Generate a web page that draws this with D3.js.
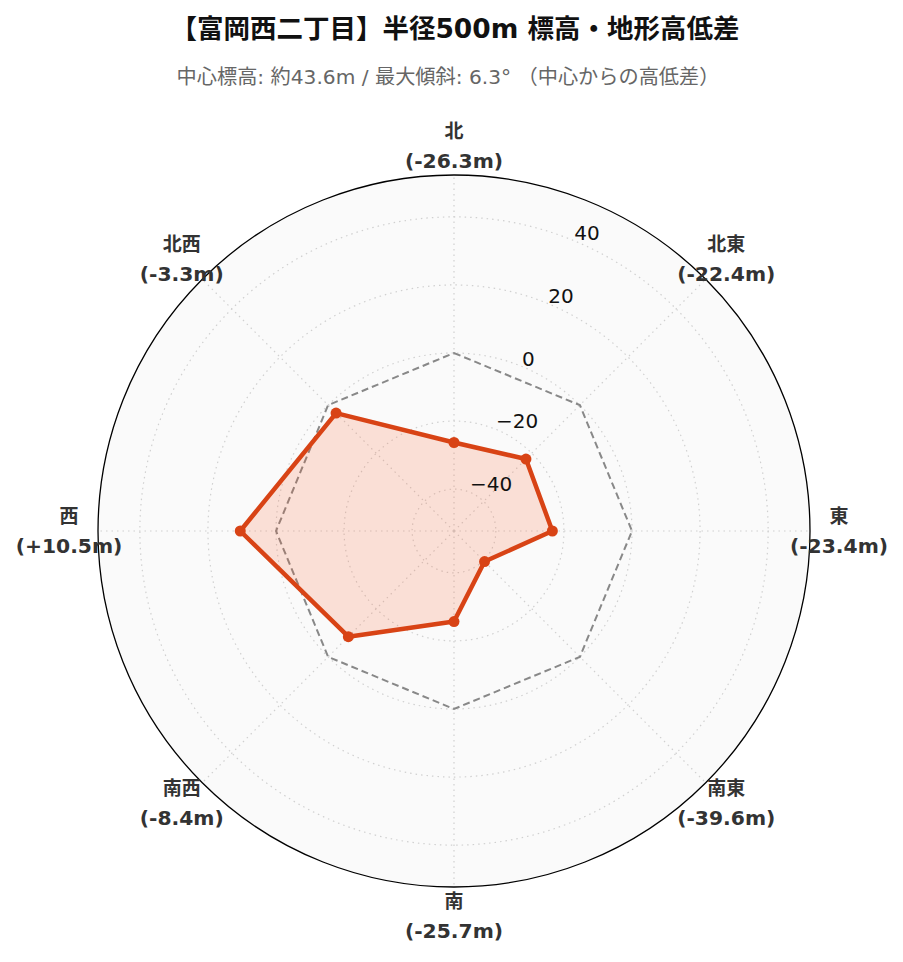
<!DOCTYPE html>
<html><head><meta charset="utf-8">
<script src="https://cdn.jsdelivr.net/npm/d3@7"></script>
<style>body{margin:0;background:#fff;} svg{display:block;}</style>
</head><body>
<script>
const directions = ["北","北東","東","南東","南","南西","西","北西"];
const diffs = [-26.3, -22.4, -23.4, -39.6, -25.7, -8.4, 10.5, -3.3];
const zeroRef = [0,0,0,0,0,0,0,0];
const rTicks = [-40, -20, 0, 20, 40];
const rDomain = [-52.3, 52.3];
const titleText = "【富岡西二丁目】半径500m 標高・地形高低差";
const subtitleText = "中心標高: 約43.6m / 最大傾斜: 6.3° （中心からの高低差）";

const W = 903, H = 962, cx = 454, cy = 531, R = 356;
const FF = "'DejaVu Sans', 'Noto Sans CJK JP', sans-serif";
const svg = d3.select("body").append("svg").attr("width", W).attr("height", H);
const r = d3.scaleLinear().domain(rDomain).range([0, R]);
const ang = d3.scaleLinear().domain([0, directions.length]).range([0, 2*Math.PI]);
const px = (i, v) => cx + r(v) * Math.sin(ang(i));
const py = (i, v) => cy - r(v) * Math.cos(ang(i));

svg.append("text").attr("x", 455).attr("y", 38).attr("text-anchor","middle")
  .attr("font-family",FF).attr("font-weight","bold")
  .attr("font-size", 26.5).attr("fill","#111").text(titleText);
svg.append("text").attr("x", 448).attr("y", 84).attr("text-anchor","middle")
  .attr("font-family",FF)
  .attr("font-size", 20.2).attr("fill","#666").text(subtitleText);

const g = svg.append("g");
g.append("circle").attr("cx",cx).attr("cy",cy).attr("r",R).attr("fill","#fafafa");

// grid circles
g.selectAll(".gc").data(rTicks).join("circle")
  .attr("cx",cx).attr("cy",cy).attr("r", d => r(d))
  .attr("fill","none").attr("stroke","#d0d0d0").attr("stroke-width",1.2).attr("stroke-dasharray","1.5,4");
// spokes
g.selectAll(".sp").data(directions).join("line")
  .attr("x1",cx).attr("y1",cy)
  .attr("x2",(d,i)=>px(i, rDomain[1])).attr("y2",(d,i)=>py(i, rDomain[1]))
  .attr("stroke","#d0d0d0").attr("stroke-width",1.2).attr("stroke-dasharray","1.5,4");

// zero reference
const line = d3.line().x(d=>d[0]).y(d=>d[1]).curve(d3.curveLinearClosed);
g.append("path").attr("d", line(zeroRef.map((v,i)=>[px(i,v),py(i,v)])))
  .attr("fill","none").attr("stroke","#888").attr("stroke-width",2).attr("stroke-dasharray","7,4");

// data
const pts = diffs.map((v,i)=>[px(i,v),py(i,v)]);
g.append("path").attr("d", line(pts)).attr("fill","#ff5722").attr("fill-opacity",0.16).attr("stroke","none");
g.append("path").attr("d", line(pts)).attr("fill","none").attr("stroke","#d84315").attr("stroke-width",4.5).attr("stroke-linejoin","round");
g.selectAll(".pt").data(pts).join("circle").attr("cx",d=>d[0]).attr("cy",d=>d[1]).attr("r",5.5).attr("fill","#d84315");

// outer circle
g.append("circle").attr("cx",cx).attr("cy",cy).attr("r",R).attr("fill","none").attr("stroke","#000").attr("stroke-width",1.3);

// radial tick labels
const la = Math.PI/8;
g.selectAll(".rt").data(rTicks).join("text")
  .attr("x", d => cx + r(d)*Math.sin(la)).attr("y", d => cy - r(d)*Math.cos(la) - 1)
  .attr("text-anchor","start").attr("font-family",FF).attr("font-size",20)
  .attr("fill","#111").text(d => d < 0 ? "\u2212" + Math.abs(d) : d);

// direction labels
const LR = 385;
const fmt = v => "(" + (v > 0 ? "+" : "") + v.toFixed(1) + "m)";
const dl = g.selectAll(".dl").data(directions).join("text")
  .attr("text-anchor","middle").attr("font-family",FF)
  .attr("font-weight","bold").attr("font-size",20.3).attr("fill","#333");
dl.append("tspan").attr("x",(d,i)=>cx+LR*Math.sin(ang(i))).attr("y",(d,i)=>cy-LR*Math.cos(ang(i))-8).attr("font-size",19).text(d=>d);
dl.append("tspan").attr("x",(d,i)=>cx+LR*Math.sin(ang(i))).attr("y",(d,i)=>cy-LR*Math.cos(ang(i))+22).text((d,i)=>fmt(diffs[i]));
</script>
</body></html>
